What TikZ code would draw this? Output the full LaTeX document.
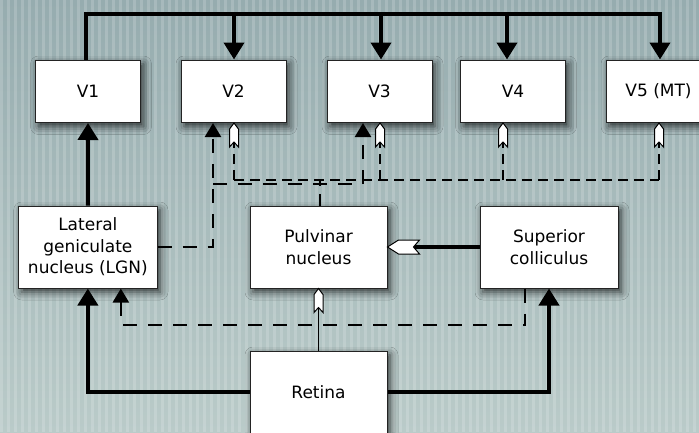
\documentclass[tikz,border=0pt]{standalone}
\usepackage{fontspec}
\setmainfont{DejaVu Sans}
\usetikzlibrary{arrows.meta,shadows.blur}

\definecolor{bgtop}{RGB}{150,172,175}
\definecolor{bgmid}{RGB}{174,193,193}
\definecolor{bgbot}{RGB}{186,203,201}
\definecolor{boxline}{RGB}{35,35,35}

\tikzset{
  area/.style={draw=boxline, line width=1pt, fill=white,
    minimum width=105pt, minimum height=62.5pt, inner sep=0pt,
    align=center, font=\fontsize{17}{21.5}\selectfont,
    blur shadow={shadow xshift=3pt, shadow yshift=-4pt,
      shadow blur radius=8pt, shadow opacity=75}},
  nucleus/.style={area, minimum height=82pt},
  strong/.style={line width=4pt, -{Triangle[width=20pt,length=17pt]}},
  strongline/.style={line width=4pt},
  koniopath/.style={line width=2.5pt, dash pattern=on 14pt off 11pt,
    -{Triangle[width=16pt,length=14pt]}},
  pulvline/.style={line width=1.1pt, dash pattern=on 10pt off 6pt},
  pics/smallflag/.style={code={
    \draw[line width=1pt, fill=white, line join=miter]
      (0,0) -- (-6,4.5) -- (-24,4.5) -- (-19,0) -- (-24,-4.5) -- (-6,-4.5) -- cycle;}},
  pics/bigflag/.style={code={
    \draw[line width=1pt, fill=white, line join=miter]
      (0,0) -- (-11,7) -- (-32,7) -- (-26,0) -- (-32,-7) -- (-11,-7) -- cycle;}},
}

\begin{document}
\begin{tikzpicture}[x=1pt, y=-1pt]
  \clip (0,0) rectangle (699,432);
  % backdrop with faint vertical ribbing
  \shade[top color=bgtop, middle color=bgmid, bottom color=bgbot]
    (0,0) rectangle (699,432);
  \foreach \s in {0,7,...,699}
    \fill[white, opacity=0.17] (\s,0) rectangle ++(3,432);

  % cortical areas
  \node[area] (V1) at (88,91.25) {V1};
  \node[area] (V2) at (233.5,91.25) {V2};
  \node[area] (V3) at (379.5,91.25) {V3};
  \node[area] (V4) at (513,91.25) {V4};
  \node[area] (V5) at (658.5,91.25) {V5 (MT)};

  % subcortical nuclei
  \node[nucleus, minimum width=138.3pt] (LGN) at (87.85,247)
    {Lateral\\geniculate\\nucleus (LGN)};
  \node[nucleus, minimum width=137pt] (Pulv) at (318.5,247)
    {Pulvinar\\nucleus};
  \node[nucleus, minimum width=138pt] (SC) at (549,247)
    {Superior\\colliculus};
  \node[nucleus, minimum width=137pt] (Retina) at (318.5,392) {Retina};

  \coordinate (bus) at (0,14);
  \coordinate (kbus) at (0,184);
  \coordinate (pbus) at (0,180);
  \coordinate (sbus) at (0,325);

  % V1 feeds every extrastriate area
  \draw[strong] ([xshift=-2pt]V1.north) |- ([xshift=1.5pt]V5.north |- bus)
    -- ([xshift=1.5pt]V5.north);
  \draw[strong] ([xshift=0.5pt]V2.north |- bus) -- ([xshift=0.5pt]V2.north);
  \draw[strong] ([xshift=1.5pt]V3.north |- bus) -- ([xshift=1.5pt]V3.north);
  \draw[strong] ([xshift=-6pt]V4.north |- bus) -- ([xshift=-6pt]V4.north);

  % geniculostriate route
  \draw[strong] (LGN.north) -- (V1.south);
  \draw[strong] (Retina.west) -| (LGN.south);
  \draw[strong] (Retina.east) -| (SC.south);

  % colliculus to LGN
  \draw[koniopath] ([xshift=-24pt]SC.south) -- ([xshift=-24pt]SC.south |- sbus)
    -| ([xshift=33pt]LGN.south);

  % LGN directly to V2 and V3
  \draw[koniopath] (LGN.east) -| ([xshift=-20.5pt]V2.south);
  \draw[koniopath] ([xshift=-20.5pt]V2.south |- kbus)
    -| ([xshift=-16.5pt]V3.south);

  % pulvinar projections
  \draw[line width=1.8pt, dash pattern=on 12pt off 8pt]
    ([xshift=1.5pt]Pulv.north) -- ([xshift=1.5pt]Pulv.north |- pbus);
  \draw[pulvline] ([xshift=0.5pt]V2.south |- pbus) -- ([xshift=0.5pt]V5.south |- pbus);
  \draw[pulvline] ([xshift=0.5pt]V2.south |- pbus) -- ([xshift=0.5pt]V2.south);
  \draw[pulvline] ([xshift=0.5pt]V3.south |- pbus) -- ([xshift=0.5pt]V3.south);
  \draw[pulvline] ([xshift=-10pt]V4.south |- pbus) -- ([xshift=-10pt]V4.south);
  \draw[pulvline] ([xshift=0.5pt]V5.south |- pbus) -- ([xshift=0.5pt]V5.south);
  \pic[rotate=90] at ([xshift=0.5pt]V2.south) {smallflag};
  \pic[rotate=90] at ([xshift=0.5pt]V3.south) {smallflag};
  \pic[rotate=90] at ([xshift=-10pt]V4.south) {smallflag};
  \pic[rotate=90] at ([xshift=0.5pt]V5.south) {smallflag};

  % retina and colliculus into pulvinar
  \draw[line width=1pt] (Retina.north) -- (Pulv.south);
  \pic[rotate=90] at (Pulv.south) {smallflag};
  \draw[strongline] (SC.west) -- ([xshift=20pt]Pulv.east);
  \pic[rotate=180] at (Pulv.east) {bigflag};
\end{tikzpicture}
\end{document}
